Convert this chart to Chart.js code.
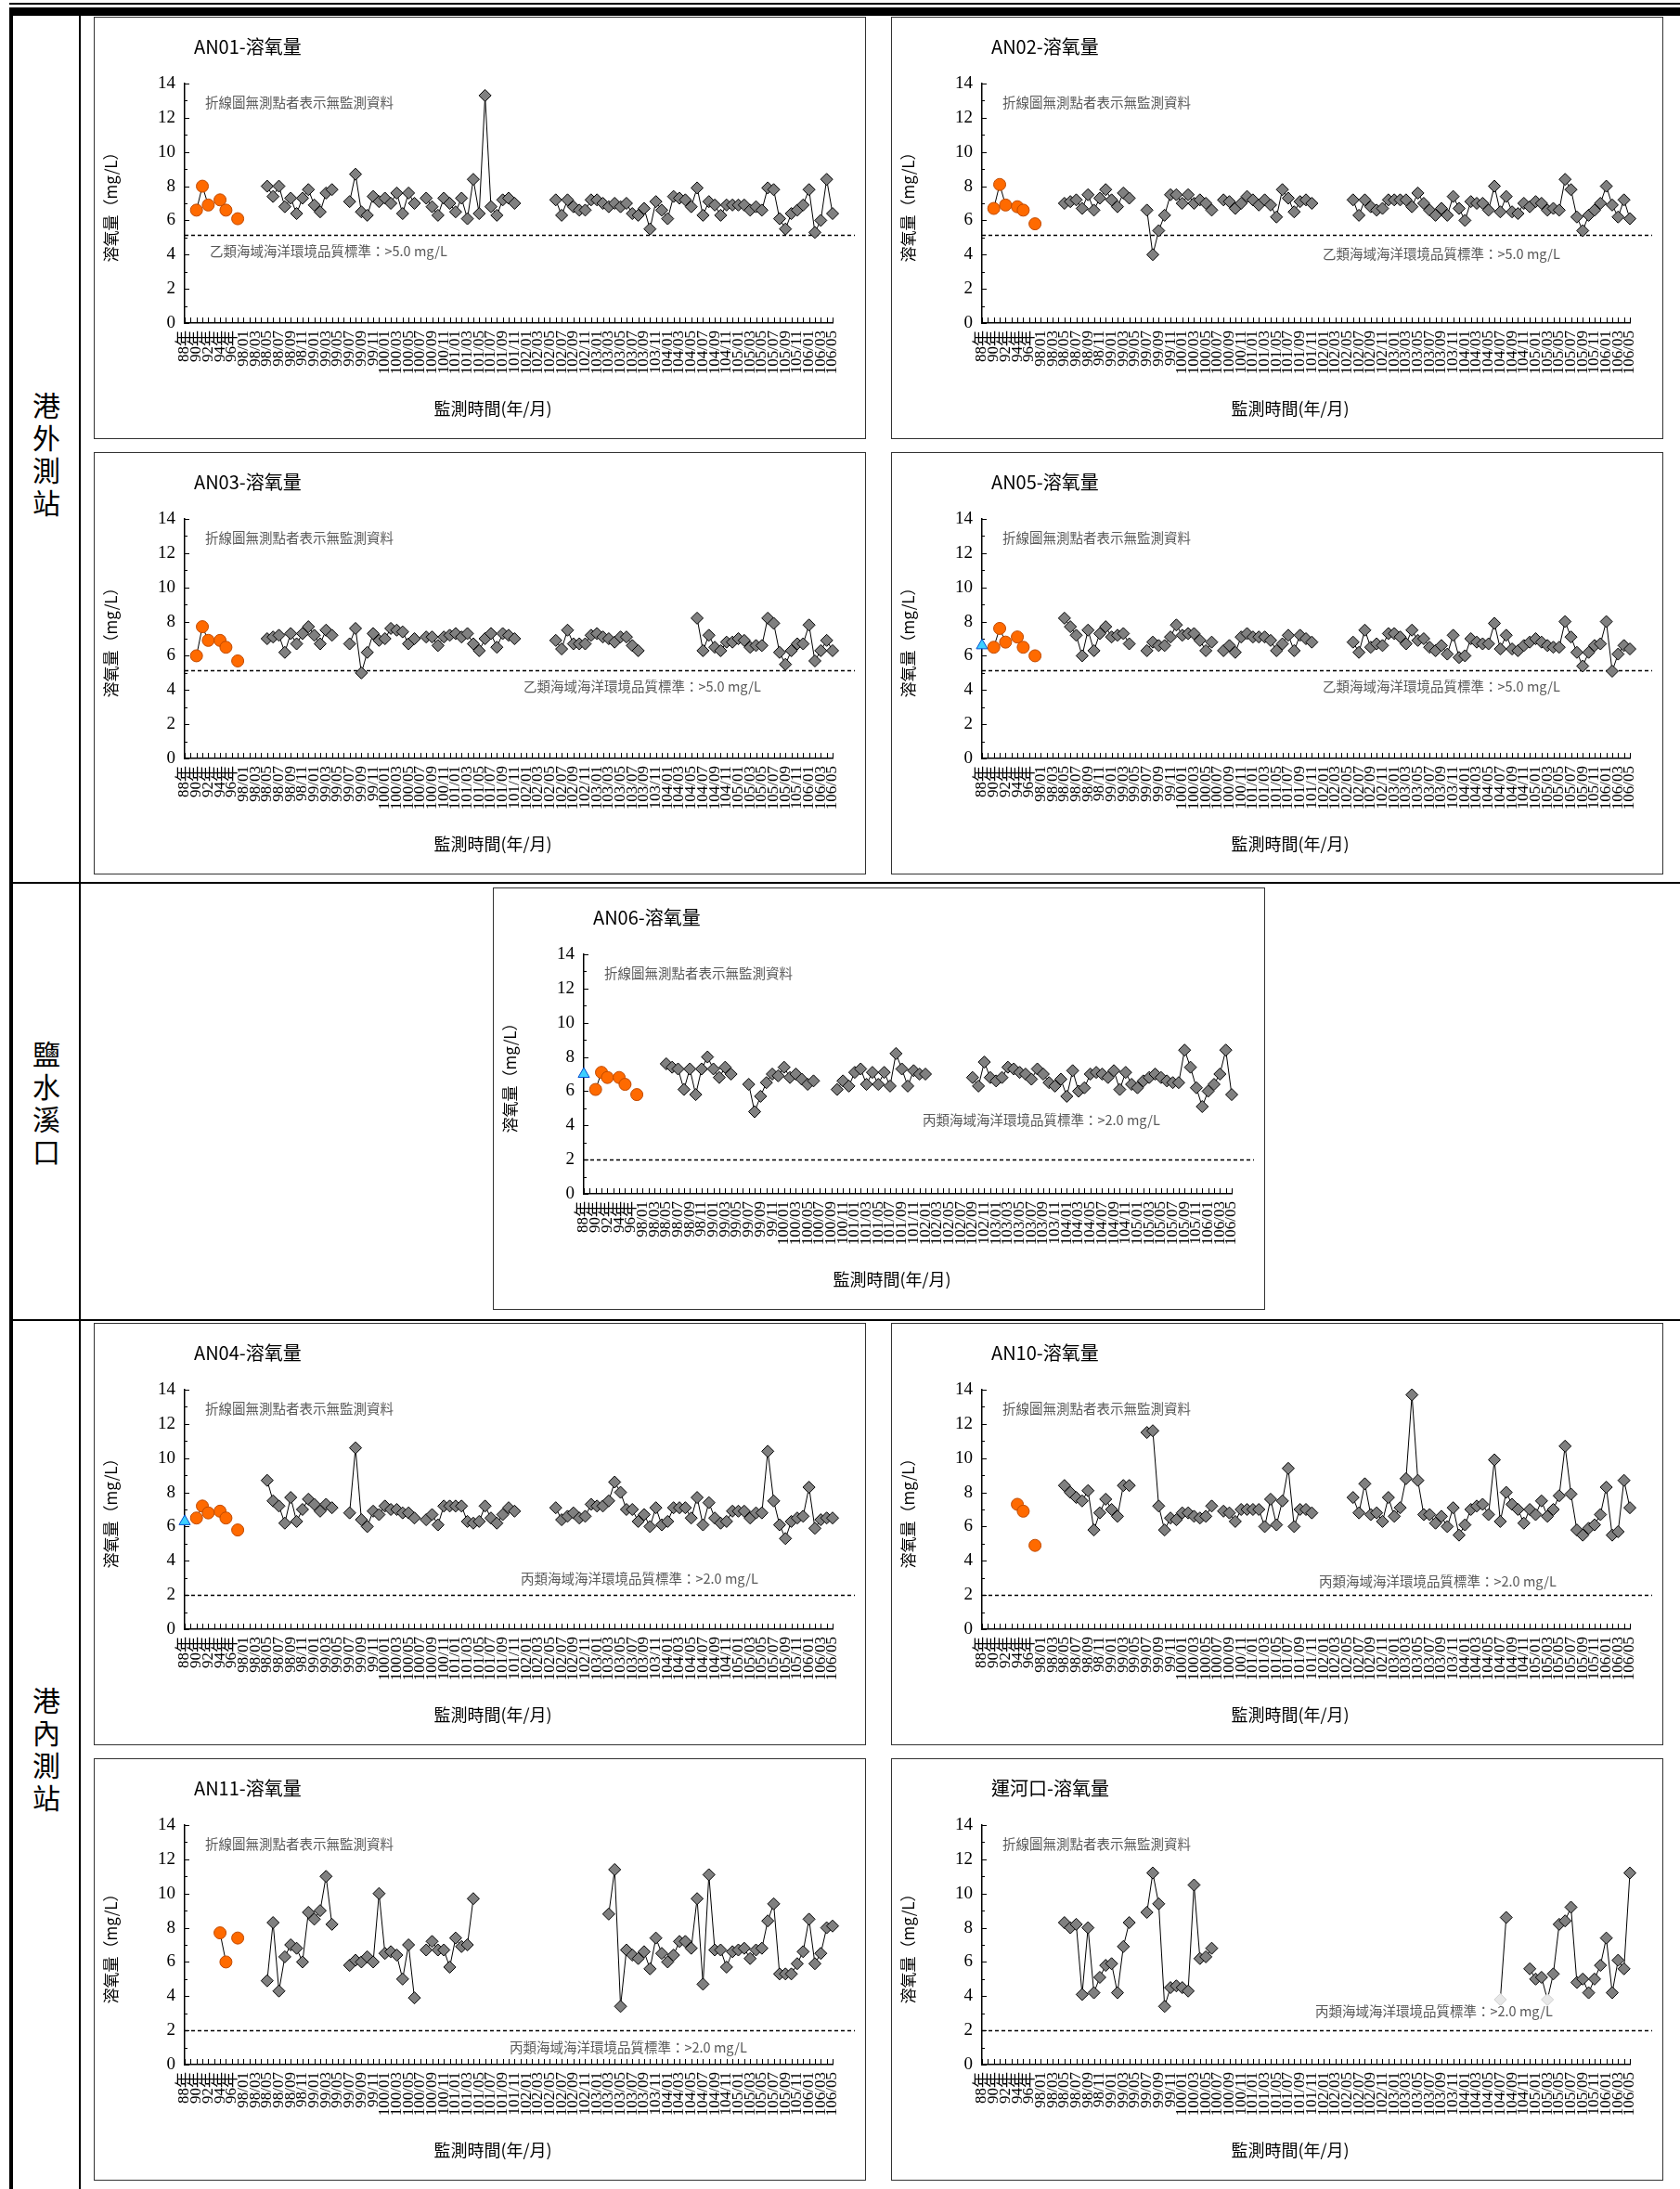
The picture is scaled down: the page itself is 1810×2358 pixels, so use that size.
<!DOCTYPE html>
<html>
<head>
<meta charset="utf-8">
<script src="https://cdn.jsdelivr.net/npm/chart.js@4.4.1/dist/chart.umd.min.js"></script>
<style>
  body { margin: 0; background: #fff; width: 1810px; height: 2358px; position: relative; overflow: hidden; font-family: "Noto Sans CJK TC", sans-serif; }
  .rule { position: absolute; background: #000; }
  .side { position: absolute; left: 14px; width: 72px; text-align: center; font-size: 30px; line-height: 35px; color: #000; }
  .panel { position: absolute; outline: 1px solid #333; outline-offset: -1px; }
</style>
</head>
<body>
<div class="rule" style="left:10px;top:3px;width:1800px;height:2px"></div>
<div class="rule" style="left:10px;top:8px;width:1800px;height:9px"></div>
<div class="rule" style="left:10px;top:8px;width:4px;height:2350px"></div>
<div class="rule" style="left:85px;top:8px;width:2px;height:2350px"></div>
<div class="rule" style="left:10px;top:950px;width:1800px;height:2px"></div>
<div class="rule" style="left:10px;top:1421px;width:1800px;height:2px"></div>

<div class="side" style="top:418px">港<br>外<br>測<br>站</div>
<div class="side" style="top:1117px">鹽<br>水<br>溪<br>口</div>
<div class="side" style="top:1813px">港<br>內<br>測<br>站</div>

<canvas id="an01" class="panel" width="832" height="455" style="left:101px;top:18px"></canvas>
<canvas id="an02" class="panel" width="832" height="455" style="left:960px;top:18px"></canvas>
<canvas id="an03" class="panel" width="832" height="455" style="left:101px;top:487px"></canvas>
<canvas id="an05" class="panel" width="832" height="455" style="left:960px;top:487px"></canvas>
<canvas id="an06" class="panel" width="832" height="455" style="left:531px;top:956px"></canvas>
<canvas id="an04" class="panel" width="832" height="455" style="left:101px;top:1425px"></canvas>
<canvas id="an10" class="panel" width="832" height="455" style="left:960px;top:1425px"></canvas>
<canvas id="an11" class="panel" width="832" height="455" style="left:101px;top:1894px"></canvas>
<canvas id="canal" class="panel" width="832" height="455" style="left:960px;top:1894px"></canvas>

<script>
// x axis: 10 yearly slots (88~97) then monthly 98/01 ~ 106/05, label on every other slot
const tickLabels = ['88年', '90年', '92年', '94年', '96年',
  '98/01', '98/03', '98/05', '98/07', '98/09', '98/11',
  '99/01', '99/03', '99/05', '99/07', '99/09', '99/11',
  '100/01', '100/03', '100/05', '100/07', '100/09', '100/11',
  '101/01', '101/03', '101/05', '101/07', '101/09', '101/11',
  '102/01', '102/03', '102/05', '102/07', '102/09', '102/11',
  '103/01', '103/03', '103/05', '103/07', '103/09', '103/11',
  '104/01', '104/03', '104/05', '104/07', '104/09', '104/11',
  '105/01', '105/03', '105/05', '105/07', '105/09', '105/11',
  '106/01', '106/03', '106/05'];
const nSlots = 111;

// AN01
const an01Tri = null;
const an01Old = [null, null, 6.6, 8.0, 6.9, null, 7.2, 6.6, null, 6.1];
const an01Start = [14, 28, 41, 63];
const an01Runs = [
  [8.0, 7.4, 8.0, 6.8, 7.3, 6.4, 7.3, 7.8, 6.9, 6.5, 7.6, 7.8],
  [7.1, 8.7, 6.5, 6.3, 7.4, 7.1, 7.3, 7.0, 7.6, 6.4, 7.6, 7.0],
  [7.3, 6.8, 6.3, 7.3, 7.0, 6.5, 7.3, 6.1, 8.4, 6.4, 13.3, 6.8, 6.3, 7.2, 7.3, 7.0],
  [7.2, 6.3, 7.2, 6.8, 6.6, 6.6, 7.2, 7.2, 7.0, 6.8, 7.0, 6.8, 7.0, 6.4, 6.3, 6.7, 5.5, 7.1, 6.6, 6.1,
   7.4, 7.3, 7.2, 6.8, 7.9, 6.3, 7.1, 6.9, 6.3, 6.9, 6.9, 6.9, 6.9, 6.6, 6.8, 6.6, 7.9, 7.8, 6.1, 5.5,
   6.4, 6.6, 6.9, 7.8, 5.3, 6.0, 8.4, 6.4]
];

// AN02
const an02Tri = null;
const an02Old = [null, null, 6.7, 8.1, 6.9, null, 6.8, 6.6, null, 5.8];
const an02Start = [14, 28, 41, 63];
const an02Runs = [
  [7.0, 7.1, 7.2, 6.7, 7.5, 6.6, 7.3, 7.8, 7.2, 6.8, 7.6, 7.3],
  [6.6, 4.0, 5.4, 6.3, 7.5, 7.5, 7.0, 7.5, 7.0, 7.2, 7.0, 6.6],
  [7.2, 7.1, 6.7, 7.0, 7.4, 7.2, 6.9, 7.2, 6.9, 6.2, 7.8, 7.3, 6.5, 7.1, 7.2, 7.0],
  [7.2, 6.3, 7.2, 6.8, 6.6, 6.7, 7.2, 7.2, 7.2, 7.2, 6.8, 7.6, 7.0, 6.6, 6.3, 6.7, 6.3, 7.4, 6.7, 6.0,
   7.1, 7.0, 7.0, 6.6, 8.0, 6.5, 7.4, 6.5, 6.4, 7.0, 6.8, 7.1, 7.0, 6.6, 6.7, 6.6, 8.4, 7.8, 6.2, 5.4,
   6.3, 6.6, 7.0, 8.0, 6.9, 6.2, 7.2, 6.1]
];

// AN03
const an03Tri = null;
const an03Old = [null, null, 6.0, 7.7, 6.9, null, 6.9, 6.5, null, 5.7];
const an03Start = [14, 28, 41, 63, 87];
const an03Runs = [
  [7.0, 7.1, 7.2, 6.2, 7.3, 6.7, 7.3, 7.7, 7.2, 6.7, 7.5, 7.2],
  [6.7, 7.6, 5.0, 6.2, 7.3, 6.9, 7.0, 7.6, 7.5, 7.4, 6.7, 7.0],
  [7.1, 7.1, 6.6, 7.1, 7.2, 7.3, 7.1, 7.3, 6.7, 6.3, 7.0, 7.3, 6.5, 7.3, 7.2, 7.0],
  [6.9, 6.4, 7.5, 6.7, 6.7, 6.7, 7.2, 7.3, 7.1, 7.0, 6.8, 7.1, 7.1, 6.6, 6.3],
  [8.2, 6.3, 7.2, 6.5, 6.3, 6.8, 6.8, 7.0, 6.9, 6.5, 6.6, 6.6, 8.2, 7.9, 6.2, 5.5, 6.3, 6.7, 6.7, 7.8,
   5.7, 6.3, 6.9, 6.3]
];

// AN05
const an05Tri = 6.6;
const an05Old = [null, null, 6.5, 7.6, 6.8, null, 7.1, 6.5, null, 6.0];
const an05Start = [14, 28, 41, 63];
const an05Runs = [
  [8.2, 7.7, 7.2, 6.0, 7.5, 6.3, 7.3, 7.7, 7.1, 7.2, 7.3, 6.7],
  [6.3, 6.8, 6.6, 6.6, 7.1, 7.8, 7.2, 7.3, 7.3, 6.9, 6.3, 6.8],
  [6.3, 6.6, 6.2, 7.1, 7.3, 7.1, 7.1, 7.1, 6.9, 6.3, 6.7, 7.2, 6.3, 7.2, 7.0, 6.8],
  [6.8, 6.2, 7.5, 6.5, 6.7, 6.6, 7.3, 7.3, 7.1, 6.7, 7.5, 6.9, 7.0, 6.5, 6.3, 6.6, 6.1, 7.2, 5.9, 6.0,
   7.0, 6.8, 6.7, 6.7, 7.9, 6.4, 7.2, 6.4, 6.3, 6.6, 6.8, 7.0, 6.8, 6.6, 6.5, 6.5, 8.0, 7.1, 6.2, 5.4,
   6.2, 6.6, 6.7, 8.0, 5.1, 6.1, 6.6, 6.4]
];

// AN06
const an06Tri = 7.0;
const an06Old = [null, null, 6.1, 7.1, 6.8, null, 6.8, 6.4, null, 5.8];
const an06Start = [14, 28, 43, 66];
const an06Runs = [
  [7.6, 7.4, 7.3, 6.1, 7.3, 5.8, 7.3, 8.0, 7.3, 6.8, 7.4, 7.0],
  [6.4, 4.8, 5.7, 6.5, 7.0, 6.9, 7.4, 6.8, 7.0, 6.7, 6.4, 6.6],
  [6.1, 6.6, 6.3, 7.1, 7.3, 6.4, 7.1, 6.4, 7.1, 6.3, 8.2, 7.3, 6.3, 7.2, 7.0, 7.0],
  [6.8, 6.3, 7.7, 6.8, 6.6, 6.8, 7.4, 7.3, 7.1, 7.0, 6.7, 7.3, 7.0, 6.5, 6.3, 6.7, 5.7, 7.2, 6.0, 6.2,
   7.0, 7.1, 7.0, 6.8, 7.2, 6.1, 7.1, 6.4, 6.2, 6.6, 6.8, 7.0, 6.8, 6.6, 6.5, 6.5, 8.4, 7.4, 6.2, 5.1,
   6.0, 6.4, 7.0, 8.4, 5.8]
];

// AN04
const an04Tri = 6.3;
const an04Old = [null, null, 6.5, 7.2, 6.8, null, 6.9, 6.5, null, 5.8];
const an04Start = [14, 28, 41, 63];
const an04Runs = [
  [8.7, 7.5, 7.2, 6.2, 7.7, 6.3, 7.0, 7.6, 7.3, 6.9, 7.3, 7.1],
  [6.8, 10.6, 6.4, 6.0, 6.9, 6.7, 7.2, 7.0, 7.0, 6.8, 6.8, 6.5],
  [6.4, 6.7, 6.1, 7.2, 7.2, 7.2, 7.2, 6.3, 6.2, 6.3, 7.2, 6.5, 6.2, 6.7, 7.1, 6.9],
  [7.1, 6.4, 6.6, 6.8, 6.5, 6.6, 7.3, 7.2, 7.2, 7.5, 8.6, 8.0, 7.0, 7.0, 6.3, 6.7, 6.0, 7.1, 6.1, 6.3,
   7.1, 7.1, 7.1, 6.5, 7.7, 6.1, 7.4, 6.5, 6.2, 6.3, 6.9, 6.9, 6.9, 6.5, 6.8, 6.8, 10.4, 7.5, 6.1, 5.3,
   6.3, 6.5, 6.6, 8.3, 5.9, 6.4, 6.5, 6.5]
];

// AN10
const an10Tri = null;
const an10Old = [null, null, null, null, null, null, 7.3, 6.9, null, 4.9];
const an10Start = [14, 28, 41, 63];
const an10Runs = [
  [8.4, 8.0, 7.7, 7.5, 8.1, 5.8, 6.8, 7.6, 7.0, 6.6, 8.4, 8.4],
  [11.5, 11.6, 7.2, 5.8, 6.5, 6.4, 6.8, 6.8, 6.6, 6.5, 6.6, 7.2],
  [6.9, 6.8, 6.3, 7.0, 7.0, 7.0, 7.0, 6.0, 7.6, 6.1, 7.5, 9.4, 6.0, 7.0, 7.0, 6.8],
  [7.7, 6.8, 8.5, 6.7, 6.8, 6.3, 7.7, 6.6, 7.1, 8.8, 13.7, 8.7, 6.7, 6.7, 6.2, 6.6, 6.0, 7.1, 5.5, 6.1,
   7.0, 7.2, 7.3, 6.7, 9.9, 6.3, 8.0, 7.3, 7.0, 6.2, 7.0, 6.7, 7.5, 6.6, 7.0, 7.8, 10.7, 7.9, 5.8, 5.5,
   5.9, 6.1, 6.7, 8.3, 5.5, 5.7, 8.7, 7.1]
];

// AN11
const an11Tri = null;
const an11Old = [null, null, null, null, null, null, 7.7, 6.0, null, 7.4];
const an11Start = [14, 28, 41, 72];
const an11Runs = [
  [4.9, 8.3, 4.3, 6.3, 7.0, 6.8, 6.0, 8.9, 8.5, 9.0, 11.0, 8.2],
  [5.8, 6.1, 6.0, 6.3, 6.0, 10.0, 6.5, 6.6, 6.4, 5.0, 7.0, 3.9],
  [6.7, 7.2, 6.7, 6.7, 5.7, 7.4, 6.9, 7.0, 9.7],
  [8.8, 11.4, 3.4, 6.7, 6.4, 6.2, 6.6, 5.6, 7.4, 6.5, 6.0, 6.4, 7.2, 7.2, 6.8, 9.7, 4.7, 11.1, 6.7, 6.7,
   5.7, 6.6, 6.7, 6.8, 6.2, 6.7, 6.8, 8.4, 9.4, 5.3, 5.3, 5.3, 5.9, 6.6, 8.5, 5.9, 6.5, 8.0, 8.1]
];

// 運河口
const canalTri = null;
const canalOld = [];
const canalStart = [14, 28, 88, 93];
const canalRuns = [
  [8.3, 8.0, 8.2, 4.1, 8.0, 4.2, 5.1, 5.8, 5.9, 4.2, 6.9, 8.3],
  [8.9, 11.2, 9.4, 3.4, 4.5, 4.6, 4.5, 4.3, 10.5, 6.2, 6.3, 6.8],
  [3.8, 8.6],
  [5.6, 5.0, 5.1, 3.8, 5.3, 8.2, 8.4, 9.2, 4.8, 5.0, 4.2, 5.0, 5.8, 7.4, 4.2, 6.1, 5.6, 11.2]
];
const canalFaint = [88, 96];

const stdB = 5.15, stdC = 2.0;
const stdTextB = '乙類海域海洋環境品質標準：>5.0 mg/L';
const stdTextC = '丙類海域海洋環境品質標準：>2.0 mg/L';
const noteText = '折線圖無測點者表示無監測資料';

const cats = [];
for (let i = 0; i < nSlots; i++) cats.push(i % 2 === 0 ? tickLabels[i / 2] : '');

function spread(starts, runs) {
  const arr = new Array(nSlots).fill(null);
  starts.forEach((s, k) => runs[k].forEach((v, j) => { arr[s + j] = v; }));
  return arr;
}
function pad(list) {
  const arr = new Array(nSlots).fill(null);
  list.forEach((v, i) => { arr[i] = v; });
  return arr;
}

const deco = {
  id: 'deco',
  beforeDatasetsDraw(chart, args, o) {
    const { ctx, chartArea: a, scales: { x, y } } = chart;
    ctx.save();
    // inward tick marks
    ctx.strokeStyle = '#000';
    ctx.lineWidth = 1;
    ctx.beginPath();
    for (let i = 0; i < nSlots; i++) {
      const px = Math.round(x.getPixelForValue(i)) + 0.5;
      ctx.moveTo(px, a.bottom);
      ctx.lineTo(px, a.bottom - 6);
    }
    for (let v = 0; v <= 14; v++) {
      const py = Math.round(y.getPixelForValue(v)) + 0.5;
      ctx.moveTo(a.left, py);
      ctx.lineTo(a.left + (v % 2 ? 3 : 5), py);
    }
    ctx.stroke();
    // standard line
    const sy = Math.round(y.getPixelForValue(o.std)) + 0.5;
    ctx.setLineDash([4, 3]);
    ctx.lineWidth = 1.5;
    ctx.beginPath();
    ctx.moveTo(a.left, sy);
    ctx.lineTo(a.right + 24, sy);
    ctx.stroke();
    ctx.setLineDash([]);
    // texts
    ctx.textBaseline = 'middle';
    ctx.textAlign = 'left';
    ctx.fillStyle = '#000';
    ctx.font = '20px "Noto Sans CJK TC"';
    ctx.fillText(o.title, 108, 32);
    ctx.fillStyle = '#595959';
    ctx.font = '14.5px "Noto Sans CJK TC"';
    ctx.fillText(noteText, 120, 92);
    ctx.fillText(o.stdText, o.stdX, o.stdY);
    ctx.fillStyle = '#000';
    ctx.textAlign = 'center';
    ctx.font = '18px "Noto Sans CJK TC"';
    ctx.fillText('監測時間(年/月)', 430, 422);
    ctx.translate(19, (a.top + a.bottom) / 2);
    ctx.rotate(-Math.PI / 2);
    ctx.font = '17px "Noto Sans CJK TC"';
    ctx.fillText('溶氧量（mg/L）', 0, 0);
    ctx.restore();
  }
};

function draw(id, title, tri, old, starts, runs, std, stdText, stdX, stdY, faint) {
  const faintSet = faint || [];
  const gray = spread(starts, runs);
  new Chart(document.getElementById(id), {
    type: 'line',
    data: {
      labels: cats,
      datasets: [
        {
          data: gray, borderColor: '#000', borderWidth: 1, tension: 0, spanGaps: false, clip: false,
          pointStyle: 'rectRot', pointRadius: 6.5, pointBorderWidth: 1,
          pointBackgroundColor: c => faintSet.includes(c.dataIndex) ? '#e8e8e8' : '#808080',
          pointBorderColor: c => faintSet.includes(c.dataIndex) ? '#d0d0d0' : '#000'
        },
        {
          data: pad(old), borderColor: '#000', borderWidth: 1, tension: 0, spanGaps: false, clip: false,
          pointStyle: 'circle', pointRadius: 6.5, pointBorderWidth: 1,
          pointBackgroundColor: '#ff6a00', pointBorderColor: '#c04a00'
        },
        {
          data: pad([tri]), showLine: false, clip: false,
          pointStyle: 'triangle', pointRadius: 7, pointBorderWidth: 1,
          pointBackgroundColor: '#3cd0ff', pointBorderColor: '#0050d0'
        }
      ]
    },
    options: {
      responsive: false,
      animation: false,
      devicePixelRatio: 1,
      layout: { padding: { top: 72, right: 36, left: 0, bottom: 0 } },
      plugins: {
        legend: { display: false },
        tooltip: { enabled: false },
        title: { display: false },
        deco: { title, std, stdText, stdX, stdY }
      },
      scales: {
        x: {
          type: 'category',
          offset: false,
          grid: { display: false, drawTicks: false },
          border: { display: true, color: '#000', width: 1.5 },
          ticks: {
            autoSkip: false, maxRotation: 90, minRotation: 90, padding: 8, color: '#000',
            font: { family: '"Liberation Serif", "Noto Sans CJK TC"', size: 17 }
          },
          afterFit: s => { s.height = 125; }
        },
        y: {
          min: 0, max: 14,
          grid: { display: false, drawTicks: false },
          border: { display: true, color: '#000', width: 1.5 },
          ticks: { stepSize: 2, padding: 10, color: '#000', font: { family: '"Liberation Serif"', size: 19 } },
          afterFit: s => { s.width = 98; }
        }
      }
    },
    plugins: [deco]
  });
}

draw('an01', 'AN01-溶氧量', an01Tri, an01Old, an01Start, an01Runs, stdB, stdTextB, 125, 252);
draw('an02', 'AN02-溶氧量', an02Tri, an02Old, an02Start, an02Runs, stdB, stdTextB, 465, 255);
draw('an03', 'AN03-溶氧量', an03Tri, an03Old, an03Start, an03Runs, stdB, stdTextB, 463, 252);
draw('an05', 'AN05-溶氧量', an05Tri, an05Old, an05Start, an05Runs, stdB, stdTextB, 465, 252);
draw('an06', 'AN06-溶氧量', an06Tri, an06Old, an06Start, an06Runs, stdC, stdTextC, 463, 250);
draw('an04', 'AN04-溶氧量', an04Tri, an04Old, an04Start, an04Runs, stdC, stdTextC, 460, 275);
draw('an10', 'AN10-溶氧量', an10Tri, an10Old, an10Start, an10Runs, stdC, stdTextC, 461, 278);
draw('an11', 'AN11-溶氧量', an11Tri, an11Old, an11Start, an11Runs, stdC, stdTextC, 448, 311);
draw('canal', '運河口-溶氧量', canalTri, canalOld, canalStart, canalRuns, stdC, stdTextC, 457, 272, canalFaint);
</script>
</body>
</html>
